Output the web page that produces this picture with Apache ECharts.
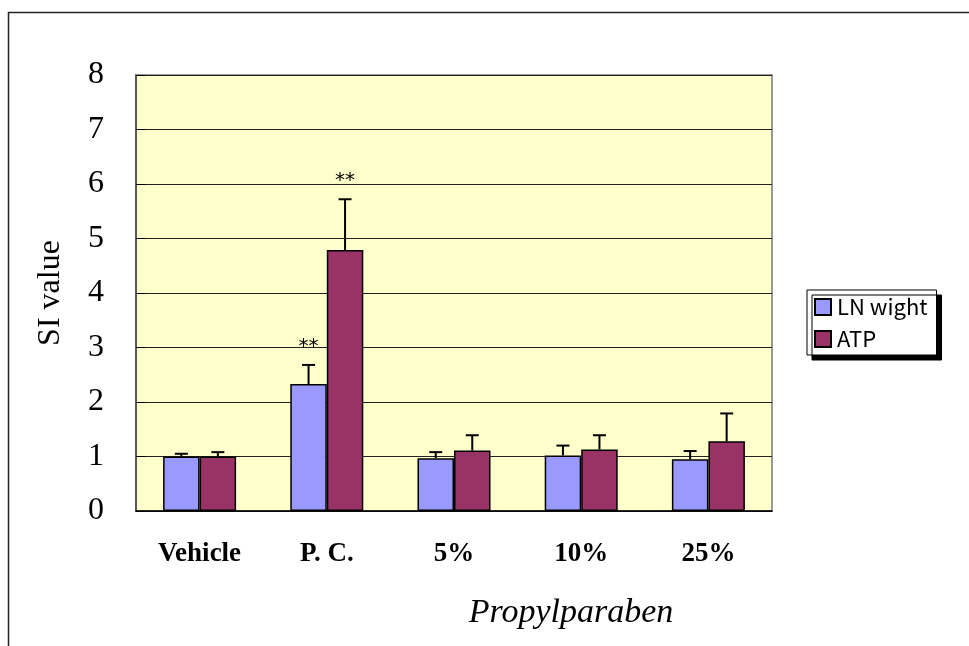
<!DOCTYPE html>
<html>
<head>
    <meta charset="utf-8">
    <title>SI value - Propylparaben</title>
    <style type="text/css">
        body{ margin:0; background:#fff; }
        #main{ width:969px; height:646px; }
    </style>
    <script src="https://cdn.jsdelivr.net/npm/echarts@6/dist/echarts.min.js"></script>
</head>
<body>
    <div id="main"></div>
    <script type="text/javascript">
// data
var categories = ['Vehicle', 'P. C.', '5%', '10%', '25%'];
var yTicks = [0, 1, 2, 3, 4, 5, 6, 7, 8];
var lnMean = [1.00, 2.33, 0.97, 1.02, 0.95];
var lnErr  = [0.05, 0.35, 0.11, 0.18, 0.15];
var lnSig  = ['', '**', '', '', ''];
var atpMean = [1.00, 4.79, 1.11, 1.13, 1.28];
var atpErr  = [0.08, 0.93, 0.28, 0.26, 0.51];
var atpSig  = ['', '**', '', '', ''];

var serif = '"Liberation Serif", "Times New Roman", serif';
var gothic = '"Noto Sans CJK JP", "DejaVu Sans", sans-serif';

var myChart = echarts.init(document.getElementById('main'));

// error bar series (upward only, with cap and ** mark)
function errSeries(name, mean, err, sig, side) {
    var data = mean.map(function (m, i) { return [i, m, err[i], sig[i]]; });
    return {
        name: name + ' err',
        type: 'custom',
        z: 5,
        encode: { x: 0, y: 1 },
        data: data,
        renderItem: function (params, api) {
            var idx = api.value(0);
            var band = api.size([1, 0])[0];
            var base = api.coord([idx, api.value(1)]);
            var top = api.coord([idx, api.value(1) + api.value(2)]);
            var x = base[0] + side * 0.1435 * band;
            var half = 6.5;
            var children = [
                { type: 'line', shape: { x1: x, y1: base[1], x2: x, y2: top[1] },
                  style: { stroke: '#000', lineWidth: 2 } },
                { type: 'line', shape: { x1: x - half, y1: top[1], x2: x + half, y2: top[1] },
                  style: { stroke: '#000', lineWidth: 2 } }
            ];
            var s = data[params.dataIndex][3];
            if (s) {
                children.push({
                    type: 'text',
                    style: { text: s, x: x, y: top[1] - 8, align: 'center', verticalAlign: 'bottom',
                             font: '20px "DejaVu Sans", sans-serif', fill: '#000' }
                });
            }
            return { type: 'group', children: children };
        }
    };
}

var option = {
    animation: false,
    color: ['#9999FF', '#993366'],
    graphic: [
        // outer chart frame
        { type: 'rect', z: -10, shape: { x: 8.5, y: 12.5, width: 1000, height: 1000 },
          style: { fill: 'none', stroke: '#222', lineWidth: 1.5 } }
    ],
    title: {
        text: 'Propylparaben',
        left: 566,
        top: 591,
        textAlign: 'center',
        textStyle: { fontFamily: serif, fontSize: 34, fontStyle: 'italic', fontWeight: 'normal', color: '#000' }
    },
    grid: {
        left: 136, right: 197, top: 75, bottom: 135,
        show: true,
        backgroundColor: '#FFFFCC',
        borderColor: '#999',
        borderWidth: 2
    },
    legend: {
        orient: 'vertical',
        left: 807,
        top: 290,
        data: ['LN wight', 'ATP'],
        icon: 'rect',
        itemWidth: 16,
        itemHeight: 16,
        itemGap: 10,
        padding: [6, 9, 5, 7],
        backgroundColor: '#fff',
        borderColor: '#000',
        borderWidth: 1,
        shadowColor: '#000',
        shadowBlur: 0,
        shadowOffsetX: 5,
        shadowOffsetY: 5,
        textStyle: { fontFamily: gothic, fontSize: 22, color: '#000', padding: [0, 0, 0, 1] }
    },
    xAxis: {
        type: 'category',
        data: categories,
        axisLine: { lineStyle: { color: '#000', width: 1.5 } },
        axisTick: { inside: true, length: 9, lineStyle: { color: '#000' } },
        axisLabel: { margin: 30, fontFamily: serif, fontSize: 27, fontWeight: 'bold', color: '#000' }
    },
    yAxis: {
        type: 'value',
        min: 0,
        max: 8,
        interval: 1,
        name: 'SI value',
        nameLocation: 'middle',
        nameGap: 69,
        nameTextStyle: { fontFamily: serif, fontSize: 32, color: '#000' },
        axisLine: { show: true, lineStyle: { color: '#444', width: 1.5 } },
        axisTick: { show: true, inside: true, length: 9, lineStyle: { color: '#000' } },
        splitLine: { lineStyle: { color: '#222', width: 1 } },
        axisLabel: {
            margin: 32, fontFamily: serif, fontSize: 32, color: '#000',
            formatter: function (v) { return yTicks.indexOf(v) >= 0 ? String(v) : ''; }
        }
    },
    series: [
        {
            name: 'LN wight',
            type: 'bar',
            data: lnMean,
            barWidth: '28.7%',
            barGap: '0%',
            itemStyle: { borderColor: '#000', borderWidth: 1.5 }
        },
        {
            name: 'ATP',
            type: 'bar',
            data: atpMean,
            barWidth: '28.7%',
            barGap: '0%',
            itemStyle: { borderColor: '#000', borderWidth: 1.5 }
        },
        errSeries('LN wight', lnMean, lnErr, lnSig, -1),
        errSeries('ATP', atpMean, atpErr, atpSig, 1)
    ]
};

myChart.setOption(option);
    </script>
</body>
</html>
